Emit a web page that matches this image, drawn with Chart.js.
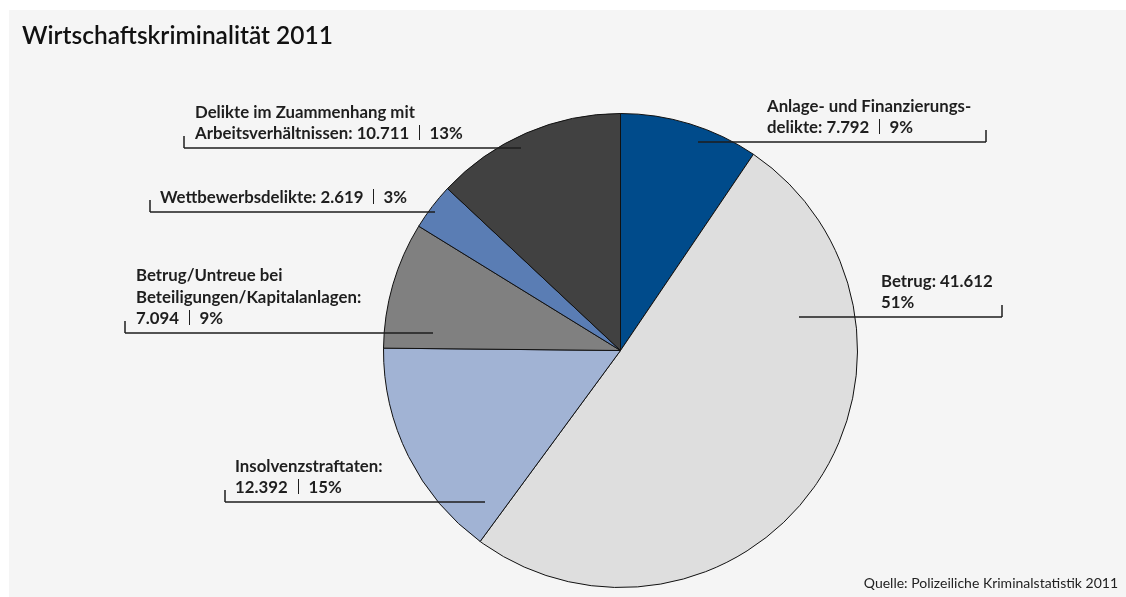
<!DOCTYPE html>
<html>
  <head>
    <meta charset="utf-8" />
    <script src="https://cdn.jsdelivr.net/npm/chart.js"></script>
    <style>
      html, body { margin: 0; padding: 0; background: #fff; }
      canvas { display: block; }
    </style>
  </head>
  <body>
    <canvas id="pieChart" width="1126" height="597"></canvas>
    <script>
      // data, clockwise from 12 o'clock
      const categories = [
        "Anlage- und Finanzierungs-\ndelikte",
        "Betrug",
        "Insolvenzstraftaten",
        "Betrug/Untreue bei\nBeteiligungen/Kapitalanlagen",
        "Wettbewerbsdelikte",
        "Delikte im Zuammenhang mit\nArbeitsverhältnissen",
      ];
      const values = [7792, 41612, 12392, 7094, 2619, 10711];
      const percents = [9, 51, 15, 9, 3, 13];
      const colors = ["#004b8b", "#dedede", "#a1b3d4", "#808080", "#5a7db4", "#414141"];

      // where each label sits (text start, leader line, tick side)
      // mode: "inline" -> ": v | p" on last line, "newline" -> v | p on own line, "split" -> ": v" then p
      const labelLayout = [
        { textX: 767, lineY: 142, x1: 698, x2: 986, tick: "right", mode: "inline" },
        { textX: 881, lineY: 317, x1: 799, x2: 1002, tick: "right", mode: "split" },
        { textX: 235, lineY: 502, x1: 225, x2: 485, tick: "left", mode: "newline" },
        { textX: 136, lineY: 333, x1: 125, x2: 433, tick: "left", mode: "newline" },
        { textX: 160, lineY: 212, x1: 150, x2: 435, tick: "left", mode: "inline" },
        { textX: 195, lineY: 148, x1: 184, x2: 521, tick: "left", mode: "inline" },
      ];

      const fmt = (n) => n.toLocaleString("de-DE");
      const FONT = "Lato, 'Open Sans', sans-serif";

      const buildLines = (i) => {
        const lines = categories[i].split("\n");
        const v = fmt(values[i]);
        const p = percents[i] + "%";
        const last = lines.length - 1;
        const mode = labelLayout[i].mode;
        if (mode === "inline") {
          lines[last] += ": " + v + " | " + p;
        } else if (mode === "newline") {
          lines[last] += ":";
          lines.push(v + " | " + p);
        } else {
          lines[last] += ": " + v;
          lines.push(p);
        }
        return lines;
      };

      const decorPlugin = {
        id: "decor",
        beforeDraw(chart) {
          const ctx = chart.ctx;
          ctx.save();
          ctx.fillStyle = "#ffffff";
          ctx.fillRect(0, 0, chart.width, chart.height);
          ctx.fillStyle = "#f5f5f5";
          ctx.fillRect(9, 10, chart.width - 9, chart.height - 10);
          ctx.fillStyle = "#111";
          ctx.font = "600 24.5px " + FONT;
          ctx.textBaseline = "alphabetic";
          ctx.fillText("Wirtschaftskriminalität 2011", 22, 44);
          ctx.font = "14px " + FONT;
          ctx.textAlign = "right";
          ctx.fillStyle = "#222";
          ctx.fillText("Quelle: Polizeiliche Kriminalstatistik 2011", 1118, 588);
          ctx.restore();
        },
        afterDraw(chart) {
          const ctx = chart.ctx;
          ctx.save();
          ctx.strokeStyle = "#1e1e1e";
          ctx.fillStyle = "#1e1e1e";
          ctx.lineWidth = 1.5;
          labelLayout.forEach((l, i) => {
            // leader line with small end tick
            const tx = l.tick === "right" ? l.x2 : l.x1;
            ctx.beginPath();
            ctx.moveTo(l.x1, l.lineY);
            ctx.lineTo(l.x2, l.lineY);
            ctx.moveTo(tx, l.lineY);
            ctx.lineTo(tx, l.lineY - 12);
            ctx.stroke();

            const lines = buildLines(i);
            ctx.font = "bold 16.8px " + FONT;
            ctx.textAlign = "left";
            lines.forEach((line, k) => {
              const y = l.lineY - 9 - (lines.length - 1 - k) * 21.5;
              const parts = line.split(" | ");
              if (parts.length === 2) {
                ctx.fillText(parts[0], l.textX, y);
                const w = ctx.measureText(parts[0]).width;
                const bx = Math.round(l.textX + w + 10) + 0.5;
                ctx.save();
                ctx.lineWidth = 1;
                ctx.beginPath();
                ctx.moveTo(bx, y - 14);
                ctx.lineTo(bx, y + 1);
                ctx.stroke();
                ctx.restore();
                ctx.fillText(parts[1], bx + 10, y);
              } else {
                ctx.fillText(line, l.textX, y);
              }
            });
          });
          ctx.restore();
        },
      };

      new Chart(document.getElementById("pieChart").getContext("2d"), {
        type: "pie",
        data: {
          labels: categories.map((c) => c.replace("\n", " ")),
          datasets: [
            {
              data: values,
              backgroundColor: colors,
              borderColor: "#111",
              borderWidth: 1,
            },
          ],
        },
        options: {
          responsive: false,
          animation: false,
          layout: { padding: { left: 383, right: 268, top: 113, bottom: 9 } },
          plugins: {
            legend: { display: false },
            tooltip: { enabled: false },
            title: { display: false },
          },
        },
        plugins: [decorPlugin],
      });
    </script>
  </body>
</html>
